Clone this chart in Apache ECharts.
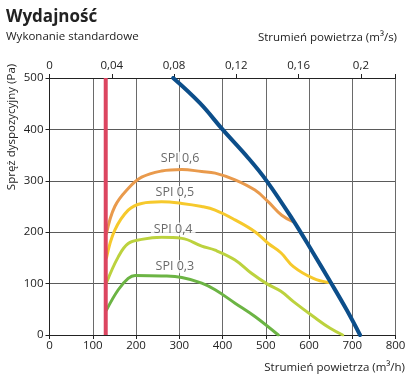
<!DOCTYPE html>
<html><head><meta charset="utf-8">
<script src="https://cdn.jsdelivr.net/npm/echarts@6/dist/echarts.min.js"></script>
<style>html,body{margin:0;padding:0;background:#fff}#c{width:417px;height:385px}</style>
</head><body><div id="c"></div>
<script>
const xTicksBottom = [0,100,200,300,400,500,600,700,800];
const yTicks = [0,100,200,300,400,500];
const limitX = [130,130];
const limitY = [0,500];
const blueX = [286,348,400,460,502,562,610,649,687,718];
const blueY = [500,451,400,344,300,225,159,104,49,0];
const spi06X = [132,151,182,213,259,306,352,383,429,475,506,537,564];
const spi06Y = [198,250,285,307,319,322,318,315,302,282,259,233,220];
const spi05X = [132,151,182,213,259,306,352,383,429,475,506,535,564,610,645];
const spi05Y = [151,204,243,256,259,256,250,243,224,201,178,160,133,110,102];
const spi04X = [132,159,182,213,259,306,352,383,429,467,502,535,564,610,649,678];
const spi04Y = [102,152,178,186,190,188,173,165,146,120,100,85,65,36,13,0];
const spi03X = [132,159,182,198,259,306,352,383,429,475,529];
const spi03Y = [49,88,110,116,115,112,101,88,62,36,0];
const labelNames = ['SPI 0,6','SPI 0,5','SPI 0,4','SPI 0,3'];
const labelX = [302,290,286,290];
const labelY = [344,277,206,133];

const zip = (a,b)=>a.map((v,i)=>[v,b[i]]);
const FONT = '"Open Sans", "Noto Sans", sans-serif';
const chart = echarts.init(document.getElementById('c'));
function line(x,y,color,w){
  return {type:'line',xAxisIndex:0,yAxisIndex:0,data:zip(x,y),smooth:0.4,symbol:'none',
    lineStyle:{color:color,width:w,cap:'round',join:'round'},z:3};
}
chart.setOption({
  animation:false,
  textStyle:{fontFamily:FONT},
  grid:{left:49.5,right:21.5,top:78,bottom:50},
  xAxis:[{
    type:'value',min:0,max:800,interval:100,position:'bottom',
    axisLine:{show:true,onZero:false,lineStyle:{color:'#222',width:1}},
    axisTick:{show:true,length:4,lineStyle:{color:'#222'}},
    axisLabel:{color:'#222',fontSize:11.5,fontFamily:FONT,margin:5},
    splitLine:{show:true,lineStyle:{color:'#6a6a6a',width:1}}
  },{
    type:'value',min:0,max:800/3600,interval:0.04,position:'top',
    axisLine:{show:true,onZero:false,lineStyle:{color:'#222',width:1}},
    axisTick:{show:true,length:4,lineStyle:{color:'#222'}},
    axisLabel:{color:'#222',fontSize:11.5,fontFamily:FONT,margin:6,
      formatter:v=>{const r=Math.round(v*100)/100; if(Math.abs(v-r)>1e-6) return ''; return String(r).replace('.',',');}},
    splitLine:{show:false}
  }],
  yAxis:[{
    type:'value',min:0,max:500,interval:100,
    axisLine:{show:true,onZero:false,lineStyle:{color:'#222',width:1}},
    axisTick:{show:true,length:4,lineStyle:{color:'#222'}},
    axisLabel:{color:'#222',fontSize:11.5,fontFamily:FONT,margin:6},
    splitLine:{show:true,lineStyle:{color:'#5a5a5a',width:1}}
  }],
  series:[
    line(spi03X,spi03Y,'#6cb444',3),
    line(spi04X,spi04Y,'#bcd23e',3),
    line(spi05X,spi05Y,'#f6c92c',3),
    line(spi06X,spi06Y,'#e99a4c',3),
    {type:'line',data:zip(limitX,limitY),symbol:'none',lineStyle:{color:'#dc4560',width:4},z:4},
    line(blueX,blueY,'#0c4e8a',4),
    {type:'scatter',symbolSize:0,z:5,
      data:labelNames.map((n,i)=>({value:[labelX[i],labelY[i]],name:n})),
      label:{show:true,position:'inside',formatter:p=>p.name,color:'#444',fontSize:12.5,fontFamily:FONT,
        backgroundColor:'#fff',padding:[0,3]}}
  ],
  graphic:[
    {type:'text',left:6,top:9,style:{text:'Wydajność',font:'bold 17px '+FONT,fill:'#222'}},
    {type:'text',left:6,top:31,style:{text:'Wykonanie standardowe',font:'11.5px '+FONT,fill:'#222'}},
    {type:'text',right:20,top:32,style:{text:'Strumień powietrza (m³/s)',font:'11.5px '+FONT,fill:'#222'}},
    {type:'text',right:12,top:362,style:{text:'Strumień powietrza (m³/h)',font:'11.5px '+FONT,fill:'#222'}},
    {type:'text',x:6,y:127,rotation:Math.PI/2,style:{text:'Spręż dyspozycyjny (Pa)',font:'11.5px '+FONT,fill:'#222',align:'center',verticalAlign:'top'}}
  ]
});
</script></body></html>
